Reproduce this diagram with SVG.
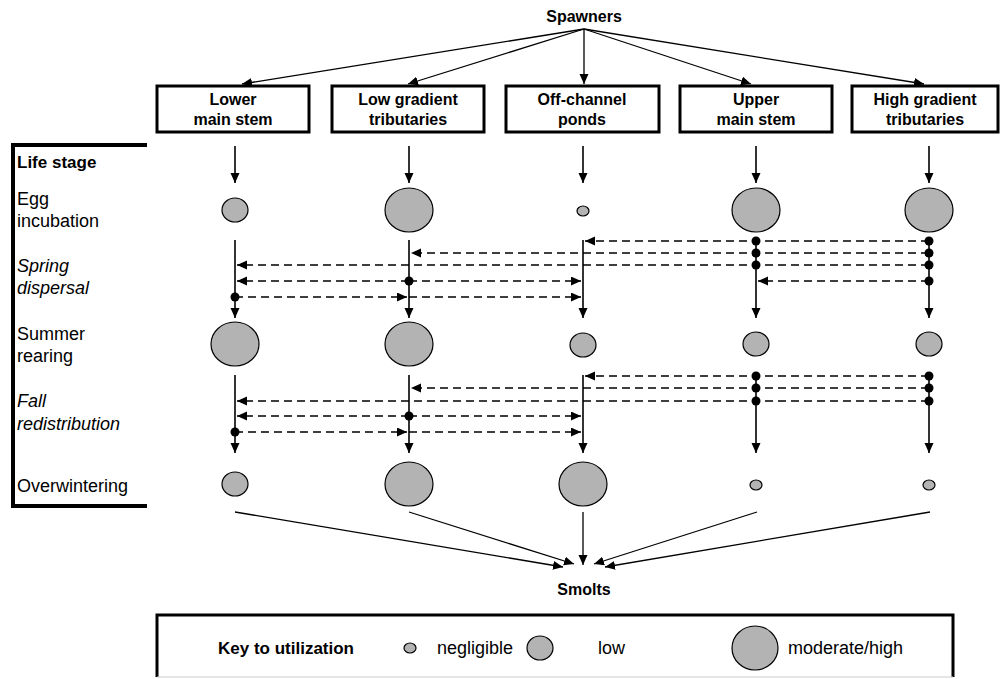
<svg xmlns="http://www.w3.org/2000/svg" width="1000" height="679" viewBox="0 0 1000 679">
<style>
text{font-family:"Liberation Sans",Arial,sans-serif;fill:#000}
.t{font-size:18px}
.bt{font-size:16px;font-weight:bold}
.kt{font-size:17px;font-weight:bold}
.it{font-style:italic}
.mid{text-anchor:middle}
.box{fill:#fff;stroke:#000;stroke-width:3}
.c{fill:#b3b3b3;stroke:#000;stroke-width:1.2}
.ln{stroke:#000;stroke-width:1.3;fill:none}
.v{stroke:#000;stroke-width:1.6;fill:none}
.d{stroke:#000;stroke-width:1.6;stroke-dasharray:8 5;fill:none}
.dot{fill:#000}
</style>
<defs>
<marker id="ah" markerUnits="userSpaceOnUse" markerWidth="11" markerHeight="10" refX="10" refY="4.5" orient="auto">
<path d="M0,0 L10,4.5 L0,9 Z" fill="#000"/>
</marker>
</defs>
<rect width="1000" height="679" fill="#fff"/>

<g id="spawners"><text class="bt mid" x="584" y="22">Spawners</text></g>

<g id="box-lower-main-stem"><rect class="box" x="157" y="86" width="152" height="46"/><text class="bt mid" x="233" y="105">Lower</text><text class="bt mid" x="233" y="125">main stem</text></g>
<g id="box-low-gradient"><rect class="box" x="332" y="86" width="152" height="46"/><text class="bt mid" x="408" y="105">Low gradient</text><text class="bt mid" x="408" y="125">tributaries</text></g>
<g id="box-off-channel"><rect class="box" x="506" y="86" width="153" height="46"/><text class="bt mid" x="582" y="105">Off-channel</text><text class="bt mid" x="582" y="125">ponds</text></g>
<g id="box-upper-main-stem"><rect class="box" x="680" y="86" width="152" height="46"/><text class="bt mid" x="756" y="105">Upper</text><text class="bt mid" x="756" y="125">main stem</text></g>
<g id="box-high-gradient"><rect class="box" x="852" y="86" width="146" height="46"/><text class="bt mid" x="925" y="105">High gradient</text><text class="bt mid" x="925" y="125">tributaries</text></g>

<g id="life-stage-panel">
<path d="M147,145 L13,145 L13,506 L147,506" fill="none" stroke="#000" stroke-width="4"/>
<text class="kt" x="17" y="168">Life stage</text>
<text class="t" x="17" y="205">Egg</text><text class="t" x="17" y="227">incubation</text>
<text class="t it" x="17" y="272">Spring</text><text class="t it" x="17" y="294">dispersal</text>
<text class="t" x="17" y="340">Summer</text><text class="t" x="17" y="362">rearing</text>
<text class="t it" x="17" y="407">Fall</text><text class="t it" x="17" y="430">redistribution</text>
<text class="t" x="17" y="492">Overwintering</text>
</g>

<g id="egg-incubation">
<ellipse class="c" cx="235" cy="210" rx="13" ry="12"/>
<ellipse class="c" cx="409" cy="210" rx="24" ry="22"/>
<ellipse class="c" cx="583" cy="211" rx="6" ry="5"/>
<ellipse class="c" cx="756" cy="210" rx="24" ry="22"/>
<ellipse class="c" cx="929" cy="210" rx="24" ry="22"/>
</g>
<g id="summer-rearing">
<ellipse class="c" cx="235" cy="344" rx="24" ry="22"/>
<ellipse class="c" cx="409" cy="344" rx="24" ry="22"/>
<ellipse class="c" cx="583" cy="345" rx="13" ry="12"/>
<ellipse class="c" cx="756" cy="344" rx="13" ry="12"/>
<ellipse class="c" cx="929" cy="344" rx="13" ry="12"/>
</g>
<g id="overwintering">
<ellipse class="c" cx="235" cy="484" rx="13" ry="12"/>
<ellipse class="c" cx="409" cy="484" rx="24" ry="22"/>
<ellipse class="c" cx="583" cy="484" rx="24" ry="22"/>
<ellipse class="c" cx="756" cy="485" rx="6" ry="5"/>
<ellipse class="c" cx="929" cy="485" rx="6" ry="5"/>
</g>

<g id="smolts"><text class="bt mid" x="584" y="595">Smolts</text></g>

<g id="connectors">
<g id="spawner-arrows">
<line class="ln" x1="584" y1="29" x2="242" y2="84" marker-end="url(#ah)"/>
<line class="ln" x1="584" y1="29" x2="408" y2="84" marker-end="url(#ah)"/>
<line class="ln" x1="584" y1="29" x2="584" y2="84" marker-end="url(#ah)"/>
<line class="ln" x1="584" y1="29" x2="751" y2="84" marker-end="url(#ah)"/>
<line class="ln" x1="584" y1="29" x2="924" y2="84" marker-end="url(#ah)"/>
</g>
<g id="box-to-egg">
<line class="v" x1="235" y1="146" x2="235" y2="183" marker-end="url(#ah)"/>
<line class="v" x1="409" y1="146" x2="409" y2="183" marker-end="url(#ah)"/>
<line class="v" x1="583" y1="146" x2="583" y2="183" marker-end="url(#ah)"/>
<line class="v" x1="756" y1="146" x2="756" y2="183" marker-end="url(#ah)"/>
<line class="v" x1="929" y1="146" x2="929" y2="183" marker-end="url(#ah)"/>
</g>
<g id="spring-dispersal">
<line class="v" x1="235" y1="240" x2="235" y2="318" marker-end="url(#ah)"/>
<line class="v" x1="409" y1="240" x2="409" y2="318" marker-end="url(#ah)"/>
<line class="v" x1="583" y1="240" x2="583" y2="318" marker-end="url(#ah)"/>
<line class="v" x1="756" y1="241" x2="756" y2="318" marker-end="url(#ah)"/>
<line class="v" x1="929" y1="241" x2="929" y2="318" marker-end="url(#ah)"/>
<line class="d" x1="929" y1="241" x2="585" y2="241" marker-end="url(#ah)"/>
<line class="d" x1="929" y1="253" x2="411" y2="253" marker-end="url(#ah)"/>
<line class="d" x1="929" y1="265" x2="237" y2="265" marker-end="url(#ah)"/>
<line class="d" x1="929" y1="281" x2="758" y2="281" marker-end="url(#ah)"/>
<line class="d" x1="409" y1="281" x2="237" y2="281" marker-end="url(#ah)"/>
<line class="d" x1="409" y1="281" x2="581" y2="281" marker-end="url(#ah)"/>
<line class="d" x1="235" y1="297" x2="407" y2="297" marker-end="url(#ah)"/>
<line class="d" x1="409" y1="297" x2="581" y2="297" marker-end="url(#ah)"/>
<circle class="dot" cx="756" cy="241" r="4.5"/><circle class="dot" cx="929" cy="241" r="4.5"/>
<circle class="dot" cx="756" cy="253" r="4.5"/><circle class="dot" cx="929" cy="253" r="4.5"/>
<circle class="dot" cx="756" cy="265" r="4.5"/><circle class="dot" cx="929" cy="265" r="4.5"/>
<circle class="dot" cx="929" cy="281" r="4.5"/>
<circle class="dot" cx="409" cy="281" r="4.5"/>
<circle class="dot" cx="235" cy="297" r="4.5"/>
</g>
<g id="fall-redistribution">
<line class="v" x1="235" y1="375" x2="235" y2="453" marker-end="url(#ah)"/>
<line class="v" x1="409" y1="375" x2="409" y2="453" marker-end="url(#ah)"/>
<line class="v" x1="583" y1="375" x2="583" y2="453" marker-end="url(#ah)"/>
<line class="v" x1="756" y1="376" x2="756" y2="453" marker-end="url(#ah)"/>
<line class="v" x1="929" y1="376" x2="929" y2="453" marker-end="url(#ah)"/>
<line class="d" x1="929" y1="376" x2="585" y2="376" marker-end="url(#ah)"/>
<line class="d" x1="929" y1="388" x2="411" y2="388" marker-end="url(#ah)"/>
<line class="d" x1="929" y1="401" x2="237" y2="401" marker-end="url(#ah)"/>
<line class="d" x1="409" y1="416" x2="237" y2="416" marker-end="url(#ah)"/>
<line class="d" x1="409" y1="416" x2="581" y2="416" marker-end="url(#ah)"/>
<line class="d" x1="235" y1="432" x2="407" y2="432" marker-end="url(#ah)"/>
<line class="d" x1="409" y1="432" x2="581" y2="432" marker-end="url(#ah)"/>
<circle class="dot" cx="756" cy="376" r="4.5"/><circle class="dot" cx="929" cy="376" r="4.5"/>
<circle class="dot" cx="756" cy="388" r="4.5"/><circle class="dot" cx="929" cy="388" r="4.5"/>
<circle class="dot" cx="756" cy="401" r="4.5"/><circle class="dot" cx="929" cy="401" r="4.5"/>
<circle class="dot" cx="409" cy="416" r="4.5"/>
<circle class="dot" cx="235" cy="432" r="4.5"/>
</g>
<g id="smolt-arrows">
<line class="ln" x1="235" y1="512" x2="563" y2="567" marker-end="url(#ah)"/>
<line class="ln" x1="409" y1="512" x2="574" y2="564" marker-end="url(#ah)"/>
<line class="ln" x1="583" y1="512" x2="583" y2="565" marker-end="url(#ah)"/>
<line class="ln" x1="757" y1="512" x2="594" y2="564" marker-end="url(#ah)"/>
<line class="ln" x1="930" y1="512" x2="605" y2="567" marker-end="url(#ah)"/>
</g>
</g>

<g id="key">
<path d="M157,677 L157,615 L953,615 L953,677" fill="none" stroke="#000" stroke-width="3"/>
<line x1="157" y1="677" x2="953" y2="677" stroke="#ccc" stroke-width="1"/>
<text class="kt" x="218" y="654">Key to utilization</text>
<ellipse class="c" cx="410" cy="648" rx="6" ry="5"/>
<text class="t" x="437" y="654">negligible</text>
<ellipse class="c" cx="540" cy="648" rx="13" ry="12"/>
<text class="t" x="598" y="654">low</text>
<ellipse class="c" cx="755" cy="648" rx="23" ry="22"/>
<text class="t" x="788" y="654">moderate/high</text>
</g>
</svg>
